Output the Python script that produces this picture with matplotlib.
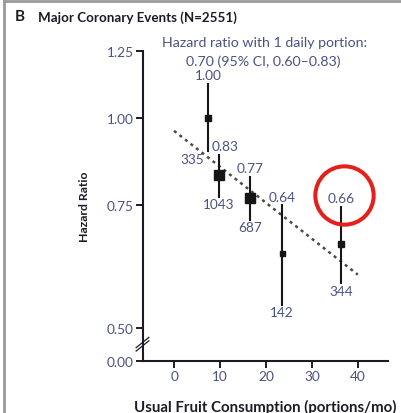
#!/usr/bin/env python3
# Major coronary events by usual fruit consumption (hazard ratios, 95% CI)

import numpy as np
import matplotlib.pyplot as plt
from matplotlib.ticker import FixedLocator, FixedFormatter, NullLocator
from matplotlib.transforms import offset_copy

# ---- data ----
portions = [7.4, 9.8, 16.6, 23.5, 36.4]          # portions/mo (group medians)
hr = [1.00, 0.83, 0.77, 0.64, 0.66]              # hazard ratios
ci_low = [0.894, 0.770, 0.713, 0.538, 0.578]
ci_high = [1.126, 0.889, 0.827, 0.753, 0.749]
cases = [335, 1043, 687, 142, 344]

# trend: HR per 1 daily portion (30 portions/mo)
hr_daily = 0.70
hr_daily_ci = (0.60, 0.83)
trend_hr_at_zero = 0.96
trend_range = [0, 40]

yticks = [0.50, 0.75, 1.00, 1.25]
xticks = [0, 10, 20, 30, 40]

# ---- style ----
FONT = "Lato"
NUM_COLOR = "#4a5284"
INK = "#1c1a24"
BAR_COLOR = "#161616"
NUM_SIZE = 9.8
marker_pt = [5.0, 6.5, 7.7, 3.6, 4.4]
hr_label_dx = [0, 4, 0, 0, 0]   # nudge (pt) so a label clears the trend line
Y_ZERO = 0.448      # where the broken axis puts "0.00"

plt.rcParams["font.family"] = [FONT, "DejaVu Sans"]

fig = plt.figure(figsize=(4.01, 4.14), dpi=100)
ax = fig.add_axes([0.3554, 0.1249, 0.6110, 0.7495])

ax.set_yscale("log")
ax.set_ylim(Y_ZERO, 1.25)
ax.set_xlim(-6.87, 46.48)

# error bars + squares
for x, h, lo, hi, ms, dx in zip(portions, hr, ci_low, ci_high, marker_pt, hr_label_dx):
    ax.plot([x, x], [lo, hi], color=BAR_COLOR, lw=1.5, solid_capstyle="butt", zorder=3)
    ax.plot(x, h, "s", color=BAR_COLOR, ms=ms, zorder=4)
    ax.annotate(f"{h:.2f}", (x, hi), xytext=(dx, 1.2), textcoords="offset points",
                ha="center", va="bottom", fontsize=NUM_SIZE, color=NUM_COLOR)

# case counts under the bars (first one sits to the left)
for i, (x, lo, n) in enumerate(zip(portions, ci_low, cases)):
    if i == 0:
        ax.annotate(str(n), (x, lo), xytext=(-3, -0.5), textcoords="offset points",
                    ha="right", va="top", fontsize=NUM_SIZE, color=NUM_COLOR)
    else:
        ax.annotate(str(n), (x, lo), xytext=(0, -0.3), textcoords="offset points",
                    ha="center", va="top", fontsize=NUM_SIZE, color=NUM_COLOR)

# dotted trend line
tx = np.array(trend_range, dtype=float)
ty = trend_hr_at_zero * hr_daily ** (tx / 30.0)
ax.plot(tx, ty, color="#4a4a4a", lw=1.8, dashes=(1.2, 1.6), zorder=2)

# highlight ring round the last estimate
ring = offset_copy(ax.transData, fig=fig, x=3, y=10.5, units="dots")
ax.plot(portions[-1], ci_high[-1], "o", mfc="none", mec="#e3201b", ms=42, mew=2.9,
        transform=ring, clip_on=False, zorder=6)

# axes
for side in ("top", "right"):
    ax.spines[side].set_visible(False)
for side in ("left", "bottom"):
    ax.spines[side].set_linewidth(1.5)
    ax.spines[side].set_color(INK)

ax.yaxis.set_major_locator(FixedLocator([Y_ZERO] + yticks))
ax.yaxis.set_major_formatter(FixedFormatter(["0.00"] + [f"{v:.2f}" for v in yticks]))
ax.yaxis.set_minor_locator(NullLocator())
ax.set_xticks(xticks)
ax.tick_params(direction="out", length=5, width=1.4, color=INK,
               labelsize=NUM_SIZE, labelcolor=NUM_COLOR, pad=1.5)

# axis break marks
for dy in (0.0, 0.011):
    ax.plot([-0.026, 0.026], [0.033 + dy, 0.066 + dy], color=INK, lw=0.9,
            transform=ax.transAxes, clip_on=False, zorder=5)

ax.set_xlabel("Usual Fruit Consumption (portions/mo)", fontsize=10.8,
              fontweight="bold", color=INK)
ax.xaxis.set_label_coords(0.5, -0.122)
ax.set_ylabel("Hazard Ratio", fontsize=8.8, fontweight="bold", color=INK, va="center")
ax.yaxis.set_label_coords(-0.235, 0.5)

# heading and summary estimate
fig.text(0.037, 0.958, "B", fontsize=11, fontweight="bold", color=INK, va="center")
fig.text(0.095, 0.958, "Major Coronary Events (N=2551)", fontsize=9.6,
         fontweight="bold", color=INK, va="center")
fig.text(0.659, 0.895, "Hazard ratio with 1 daily portion:", fontsize=10.2,
         color=NUM_COLOR, ha="center", va="center")
fig.text(0.656, 0.851,
         f"{hr_daily:.2f} (95% CI, {hr_daily_ci[0]:.2f}\u2013{hr_daily_ci[1]:.2f})",
         fontsize=10.2, color=NUM_COLOR, ha="center", va="center")

# panel frame
fig.add_artist(plt.Line2D([0.010, 0.010], [0, 0.996], color="#9a9a9a", lw=2,
                          transform=fig.transFigure))
fig.add_artist(plt.Line2D([0.010, 1.0], [0.996, 0.996], color="#9a9a9a", lw=2,
                          transform=fig.transFigure))

fig.savefig("out.png", dpi=100)
